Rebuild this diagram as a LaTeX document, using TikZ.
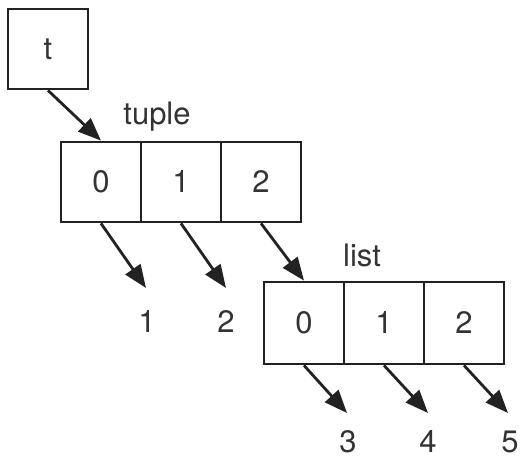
\documentclass[tikz,border=0pt]{standalone}
\usepackage{fontspec}
\setmainfont{TeX Gyre Heros}
\usetikzlibrary{arrows.meta}
\definecolor{ink}{HTML}{222222}
\definecolor{txt}{HTML}{333333}
\begin{document}
\begin{tikzpicture}[x=1pt,y=-1pt,
  cell/.style={draw=ink,line width=2.8pt,minimum width=80pt,minimum height=80pt,inner sep=0pt,text=txt,font=\fontsize{31}{36}\selectfont},
  lbl/.style={text=txt,font=\fontsize{31}{36}\selectfont,inner sep=0pt},
  ptr/.style={draw=ink,line width=2.8pt,-{Triangle[length=23pt,width=18pt]}}]
\useasboundingbox (0,0) rectangle (527,460);
\node[cell] (t) at (48,49) {t};
\node[cell] (t0) at (101,182) {0};
\node[cell] (t1) at (181,182) {1};
\node[cell] (t2) at (261,182) {2};
\node[lbl] (tl) at (157,117) {tuple};
\node[cell,minimum height=82pt] (l0) at (304,323) {0};
\node[cell,minimum height=82pt] (l1) at (384,323) {1};
\node[cell,minimum height=82pt] (l2) at (464,323) {2};
\node[lbl] (ll) at (362,255) {list};
\node[lbl] (n1) at (147,322) {1};
\node[lbl] (n2) at (226,322) {2};
\node[lbl] (n3) at (348,442) {3};
\node[lbl] (n4) at (428,442) {4};
\node[lbl] (n5) at (510,442) {5};
\coordinate (e1) at (146,288);
\coordinate (e2) at (226,288);
\coordinate (e3) at (347,413);
\coordinate (e4) at (428,413);
\coordinate (e5) at (508,413);
\draw[ptr] (t.south) -- (t0.north);
\draw[ptr] (t0.south) -- (e1);
\draw[ptr] (t1.south) -- (e2);
\draw[ptr] (t2.south) -- (l0.north);
\draw[ptr] (l0.south) -- (e3);
\draw[ptr] (l1.south) -- (e4);
\draw[ptr] (l2.south) -- (e5);
\end{tikzpicture}
\end{document}
